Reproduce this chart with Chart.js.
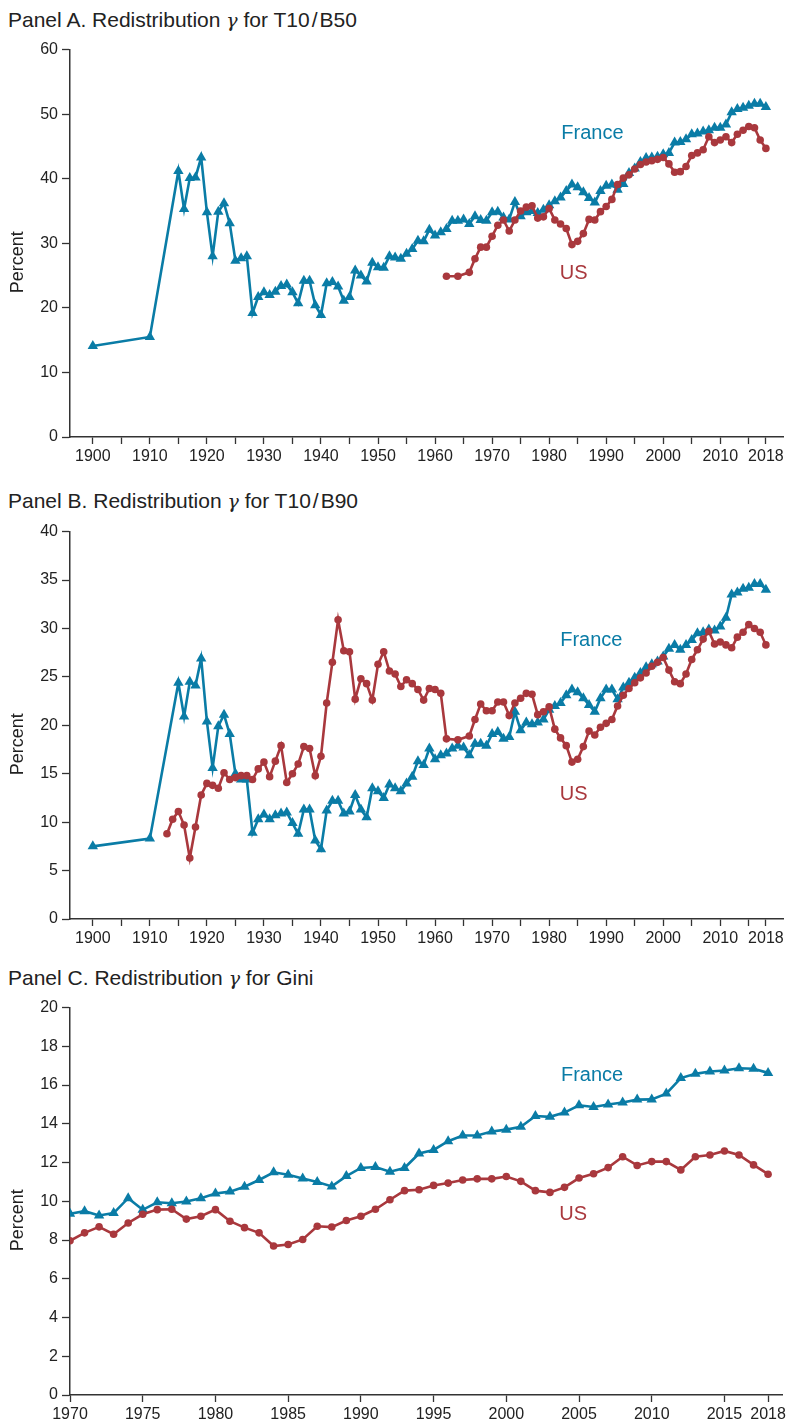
<!DOCTYPE html>
<html>
<head>
<meta charset="utf-8">
<script src="https://cdn.jsdelivr.net/npm/chart.js@4.4.1/dist/chart.umd.min.js"></script>
<style>
  body { margin: 0; background: #fff; width: 789px; height: 1422px; overflow: hidden; position: relative;
         font-family: "Liberation Sans", Arial, sans-serif; color: #222; }
  .title { position: absolute; left: 8px; font-size: 21px; line-height: 21px; white-space: nowrap; }
  .title i { font-family: "DejaVu Serif", serif; font-size: 19px; }
  .title .sl { margin: 0 2px; }
  canvas { position: absolute; left: 0; }
</style>
</head>
<body>
<div class="title" style="top:9px">Panel A. Redistribution <i>γ</i> for T10<span class="sl">/</span>B50</div>
<canvas id="chartA" width="789" height="435" style="top:36px"></canvas>
<div class="title" style="top:490px">Panel B. Redistribution <i>γ</i> for T10<span class="sl">/</span>B90</div>
<canvas id="chartB" width="789" height="435" style="top:518px"></canvas>
<div class="title" style="top:967px">Panel C. Redistribution <i>γ</i> for Gini</div>
<canvas id="chartC" width="789" height="428" style="top:994px"></canvas>
<script>
// years helper (categories only)
const range = (a, b) => Array.from({length: b - a + 1}, (_, i) => a + i);

// ---- Panel A : T10/B50 ----
const franceYearsA = [1900, 1910, ...range(1915, 2018)];
const franceA = [14.1, 15.5,
  41.2, 35.3, 40.1, 40.2, 43.3, 34.8, 28.0, 34.9, 36.2, 33.1, 27.3, 27.7, 28.0, 19.2, 21.7, 22.4, 22.0, 22.5,
  23.4, 23.6, 22.4, 20.7, 24.2, 24.2, 20.4, 18.9, 23.8, 24.0, 23.3, 21.1, 21.7, 25.8, 25.0, 24.1, 27.0, 26.3,
  26.2, 28.0, 27.8, 27.6, 28.4, 29.1, 30.4, 30.3, 32.1, 31.2, 31.7, 32.2, 33.5, 33.5, 33.7, 33.0, 34.2, 33.6,
  33.5, 34.8, 34.9, 34.0, 33.7, 36.4, 34.2, 34.8, 35.0, 34.7, 35.2, 35.9, 36.5, 37.1, 38.1, 39.1, 38.7, 37.9,
  37.0, 36.3, 38.1, 38.9, 39.1, 38.3, 39.2, 40.9, 41.6, 42.6, 43.2, 43.3, 43.4, 43.8, 44.0, 45.6, 45.7, 46.1,
  46.9, 47.0, 47.3, 47.5, 47.9, 47.9, 48.4, 50.3, 50.8, 51.0, 51.3, 51.6, 51.6, 51.1];
const usYearsA = [1962, 1964, ...range(1966, 2018)];
const usA = [24.9, 24.9,
  25.5, 27.6, 29.4, 29.4, 31.1, 32.8, 33.6, 31.9, 33.6, 35.0, 35.6, 35.8, 33.9, 34.1, 35.4, 33.6, 33.0, 32.3,
  29.8, 30.3, 31.5, 33.7, 33.6, 34.9, 35.7, 36.8, 39.1, 40.1, 40.6, 41.5, 42.2, 42.6, 42.8, 43.0, 43.3, 42.3,
  41.0, 41.1, 41.9, 43.6, 44.0, 44.5, 46.5, 45.6, 46.0, 46.5, 45.6, 46.9, 47.5, 48.1, 47.9, 46.0, 44.7];

// ---- Panel B : T10/B90 ----
const franceYearsB = [1900, 1910, ...range(1915, 2018)];
const franceB = [7.5, 8.3,
  24.4, 20.9, 24.5, 24.1, 26.9, 20.4, 15.6, 19.9, 21.1, 19.1, 15.0, 14.4, 14.4, 8.9, 10.3, 10.8, 10.3, 10.7,
  10.9, 11.0, 9.9, 8.8, 11.3, 11.3, 8.1, 7.2, 11.2, 12.2, 12.2, 10.9, 11.1, 12.8, 11.3, 10.5, 13.5, 13.2,
  12.5, 13.9, 13.5, 13.2, 14.0, 14.7, 16.3, 15.9, 17.6, 16.5, 16.9, 17.1, 17.6, 17.9, 17.7, 16.9, 18.1, 18.1,
  17.9, 19.1, 19.3, 18.6, 18.8, 21.4, 19.5, 20.3, 20.1, 20.3, 20.6, 21.6, 22.0, 22.3, 23.1, 23.7, 23.4, 22.8,
  22.1, 21.4, 22.8, 23.7, 23.7, 22.7, 23.9, 24.4, 24.9, 25.4, 26.0, 26.3, 26.6, 27.1, 27.9, 28.3, 27.8, 28.3,
  28.8, 29.5, 29.6, 29.9, 29.8, 30.2, 31.1, 33.5, 33.7, 34.1, 34.2, 34.6, 34.6, 34.0];
const usYearsB = [...range(1913, 1962), 1964, ...range(1966, 2018)];
const usB = [8.8, 10.3, 11.1, 9.7, 6.3, 9.5, 12.8, 14.0, 13.8, 13.5, 15.1, 14.4, 14.6, 14.8, 14.8, 14.4, 15.5,
  16.2, 14.7, 16.3, 17.9, 14.1, 15.0, 16.0, 17.8, 17.6, 14.8, 16.8, 22.3, 26.5, 30.9, 27.7, 27.6, 22.7, 24.8,
  24.3, 22.6, 26.3, 27.6, 25.6, 25.3, 24.0, 24.7, 24.3, 23.7, 22.6, 23.8, 23.7, 23.3,
  18.6, 18.5, 18.9, 20.6, 22.2, 21.5, 21.5, 22.4, 22.4, 21.0, 22.3, 22.8, 23.3, 23.2, 21.1, 21.4, 21.9, 19.6,
  18.7, 17.9, 16.2, 16.5, 17.8, 19.4, 19.0, 19.8, 20.2, 20.6, 22.0, 23.1, 23.8, 24.4, 24.9, 25.4, 26.1, 26.5,
  27.0, 25.7, 24.5, 24.3, 25.3, 26.8, 27.8, 28.9, 29.7, 28.4, 28.6, 28.3, 28.0, 29.1, 29.6, 30.4, 30.0, 29.6, 28.3];

// ---- Panel C : Gini ----
const yearsC = range(1970, 2018);
const franceC = [9.36, 9.49, 9.27, 9.39, 10.16, 9.56, 9.95, 9.9, 9.99, 10.16, 10.4, 10.5, 10.75, 11.1, 11.5,
  11.37, 11.18, 11.0, 10.77, 11.3, 11.72, 11.77, 11.53, 11.72, 12.47, 12.65, 13.1, 13.4, 13.4, 13.6, 13.7,
  13.85, 14.4, 14.36, 14.58, 14.96, 14.87, 15.0, 15.1, 15.25, 15.26, 15.56, 16.36, 16.58, 16.7, 16.75,
  16.87, 16.84, 16.63];
const usC = [7.96, 8.37, 8.68, 8.3, 8.88, 9.33, 9.57, 9.59, 9.08, 9.23, 9.57, 8.97, 8.64, 8.37, 7.69, 7.77,
  8.03, 8.71, 8.67, 9.01, 9.23, 9.59, 10.08, 10.55, 10.6, 10.82, 10.94, 11.1, 11.16, 11.16, 11.28, 11.03,
  10.55, 10.46, 10.72, 11.2, 11.42, 11.74, 12.3, 11.85, 12.05, 12.05, 11.62, 12.3, 12.39, 12.6, 12.39,
  11.88, 11.4];

// axis ticks
const xTicksAB = [...range(0, 23).map(i => 1900 + i * 5), 2018];
const xLabelsAB = [1900, 1910, 1920, 1930, 1940, 1950, 1960, 1970, 1980, 1990, 2000, 2010, 2018];
const xTicksC = [1970, 1975, 1980, 1985, 1990, 1995, 2000, 2005, 2010, 2015, 2018];
const yTicksA = [0, 10, 20, 30, 40, 50, 60];
const yTicksB = [0, 5, 10, 15, 20, 25, 30, 35, 40];
const yTicksC = [0, 2, 4, 6, 8, 10, 12, 14, 16, 18, 20];

const BLUE = '#0a7ca6';
const RED = '#a9383d';
const AXIS = '#333';
const FONT = '"Liberation Sans", Arial, sans-serif';

Chart.defaults.font.family = FONT;
Chart.defaults.color = '#222';

// text labels "France" / "US" placed in data coordinates, plus the "Percent" axis title
const seriesLabels = {
  id: 'seriesLabels',
  afterDatasetsDraw(chart, args, opts) {
    const {ctx, scales, chartArea} = chart;
    ctx.save();
    ctx.font = '20px ' + FONT;
    ctx.textAlign = 'center';
    ctx.textBaseline = 'middle';
    (opts.items || []).forEach(it => {
      ctx.fillStyle = it.color;
      ctx.fillText(it.text, scales.x.getPixelForValue(it.x), scales.y.getPixelForValue(it.y));
    });
    // y title sits a bit below the middle of the plot, as in the original
    ctx.translate(18, (chartArea.top + chartArea.bottom) / 2 + 19);
    ctx.rotate(-Math.PI / 2);
    ctx.fillStyle = '#222';
    ctx.font = '18px ' + FONT;
    ctx.fillText('Percent', 0, 0);
    ctx.restore();
  }
};

const pairs = (xs, ys) => xs.map((x, i) => ({x: x, y: ys[i]}));

function makeChart(id, c) {
  return new Chart(document.getElementById(id), {
    type: 'line',
    data: {
      datasets: [
        { label: 'US', data: pairs(c.usYears, c.us), borderColor: RED, backgroundColor: RED,
          borderWidth: 2.6, pointStyle: 'circle', pointRadius: 3.8, pointBorderWidth: 0, tension: 0 },
        { label: 'France', data: pairs(c.frYears, c.fr), borderColor: BLUE, backgroundColor: BLUE,
          borderWidth: 2.6, pointStyle: 'triangle', pointRadius: 6, pointBorderWidth: 0, tension: 0 }
      ]
    },
    options: {
      responsive: false,
      animation: false,
      layout: { padding: { top: 10, right: 4, left: 0, bottom: 0 } },
      plugins: {
        legend: { display: false },
        tooltip: { enabled: false },
        seriesLabels: { items: c.labels }
      },
      scales: {
        x: {
          type: 'linear', min: c.xMin, max: c.xMax,
          afterBuildTicks: s => { s.ticks = c.xTicks.map(v => ({value: v})); },
          afterFit: s => { s.height = c.xAxisH; },
          ticks: { autoSkip: false, maxRotation: 0, padding: 3, font: { size: 16 },
                   callback: v => c.xLabels.includes(v) ? String(v) : '' },
          grid: { drawOnChartArea: false, tickLength: 7, tickColor: AXIS, tickWidth: 1.3 },
          border: { color: AXIS, width: 1.5 }
        },
        y: {
          min: c.yTicks[0], max: c.yTicks[c.yTicks.length - 1],
          afterBuildTicks: s => { s.ticks = c.yTicks.map(v => ({value: v})); },
          afterFit: s => { s.width = 70; },
          ticks: { padding: 4, font: { size: 16 } },
          grid: { drawOnChartArea: false, tickLength: 8, tickColor: AXIS, tickWidth: 1.3 },
          border: { color: AXIS, width: 1.5 }
        }
      }
    },
    plugins: [seriesLabels]
  });
}

makeChart('chartA', {
  frYears: franceYearsA, fr: franceA, usYears: usYearsA, us: usA,
  xMin: 1896, xMax: 2021, xTicks: xTicksAB, xLabels: xLabelsAB, yTicks: yTicksA, xAxisH: 34,
  labels: [{text: 'France', x: 1987.6, y: 47.0, color: BLUE}, {text: 'US', x: 1984.3, y: 25.4, color: RED}]
});
makeChart('chartB', {
  frYears: franceYearsB, fr: franceB, usYears: usYearsB, us: usB,
  xMin: 1896, xMax: 2021, xTicks: xTicksAB, xLabels: xLabelsAB, yTicks: yTicksB, xAxisH: 34,
  labels: [{text: 'France', x: 1987.4, y: 28.8, color: BLUE}, {text: 'US', x: 1984.3, y: 12.9, color: RED}]
});
makeChart('chartC', {
  frYears: yearsC, fr: franceC, usYears: yearsC, us: usC,
  xMin: 1970, xMax: 2019, xTicks: xTicksC, xLabels: xTicksC, yTicks: yTicksC, xAxisH: 27,
  labels: [{text: 'France', x: 2005.9, y: 16.5, color: BLUE}, {text: 'US', x: 2004.6, y: 9.3, color: RED}]
});
</script>
</body>
</html>
